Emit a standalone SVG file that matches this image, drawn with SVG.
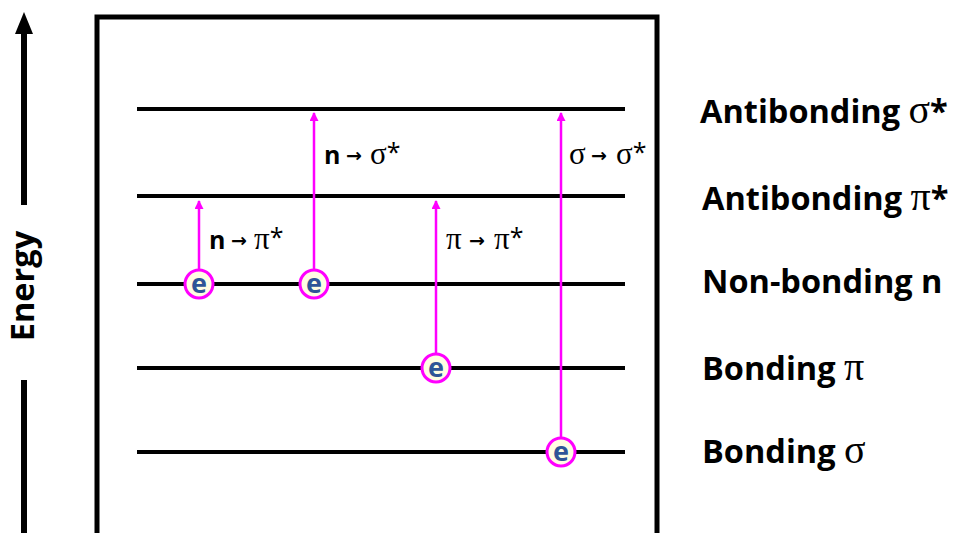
<svg xmlns="http://www.w3.org/2000/svg" width="954" height="533" viewBox="0 0 954 533">
<style>
.lvl{stroke:#000;stroke-width:4;fill:none}
.tr{stroke:#FF00FF;stroke-width:2.5;fill:none}
.el{fill:#FFFDE3;stroke:#FF00FF;stroke-width:3}
.et{font-family:"Open Sans","Liberation Sans",sans-serif;font-weight:bold;font-size:27px;fill:#2F5597;text-anchor:middle}
.lab{font-family:"Open Sans","Liberation Sans",sans-serif;font-size:25px;fill:#000}
.nb{font-weight:bold}
.ar{font-family:"DejaVu Sans",sans-serif;font-size:19px;font-weight:bold}
.gk{font-family:"Liberation Serif",serif;font-size:31px}
.big{font-family:"Open Sans","Liberation Sans",sans-serif;font-weight:bold;font-size:32.5px;fill:#000}
.bg{font-family:"Liberation Serif",serif;font-weight:normal;font-size:40px}
</style>
<defs>
<marker id="mh" viewBox="0 0 10 10" refX="9" refY="5" markerWidth="11" markerHeight="9" markerUnits="userSpaceOnUse" orient="auto">
<path d="M0,0 L10,5 L0,10 z" fill="#FF00FF"/>
</marker>
</defs>
<rect width="954" height="533" fill="#fff"/>
<g id="energy-axis">
<line x1="24" y1="30" x2="24" y2="205" stroke="#000" stroke-width="6"/>
<path d="M15,34 L24,12 L33,34 z" fill="#000"/>
<line x1="24" y1="380" x2="24" y2="533" stroke="#000" stroke-width="6"/>
<text class="big" font-size="30" transform="translate(34,286) rotate(-90)" text-anchor="middle">Energy</text>
</g>
<g id="frame">
<rect x="97" y="17" width="560" height="520" fill="none" stroke="#000" stroke-width="5"/>
</g>
<g id="levels">
<line class="lvl" x1="137" y1="109" x2="625" y2="109"/>
<line class="lvl" x1="137" y1="196" x2="625" y2="196"/>
<line class="lvl" x1="137" y1="284" x2="625" y2="284"/>
<line class="lvl" x1="137" y1="368" x2="625" y2="368"/>
<line class="lvl" x1="137" y1="452" x2="625" y2="452"/>
</g>
<g id="connectors">
<line class="tr" x1="199" y1="270" x2="199" y2="201" marker-end="url(#mh)"/>
<line class="tr" x1="314" y1="270" x2="314" y2="113" marker-end="url(#mh)"/>
<line class="tr" x1="436" y1="354" x2="436" y2="201" marker-end="url(#mh)"/>
<line class="tr" x1="561" y1="438" x2="561" y2="113" marker-end="url(#mh)"/>
</g>
<g id="e1"><circle class="el" cx="199" cy="284" r="14"/><text class="et" x="199" y="293">e</text></g>
<g id="e2"><circle class="el" cx="314" cy="284" r="14"/><text class="et" x="314" y="293">e</text></g>
<g id="e3"><circle class="el" cx="436" cy="368" r="14"/><text class="et" x="436" y="377">e</text></g>
<g id="e4"><circle class="el" cx="561" cy="452" r="14"/><text class="et" x="561" y="461">e</text></g>
<g id="t1"><text class="lab" x="209" y="249"><tspan class="nb">n</tspan><tspan class="ar" x="231" dy="-2">→</tspan><tspan class="gk" x="254" dy="2">π</tspan><tspan dy="-3">*</tspan></text></g>
<g id="t2"><text class="lab" x="324" y="164"><tspan class="nb">n</tspan><tspan class="ar" x="346" dy="-2">→</tspan><tspan class="gk" x="370" dy="2">σ</tspan><tspan dy="-3">*</tspan></text></g>
<g id="t3"><text class="lab" x="446" y="249"><tspan class="gk">π</tspan><tspan class="ar" x="469" dy="-2">→</tspan><tspan class="gk" x="494" dy="2">π</tspan><tspan dy="-3">*</tspan></text></g>
<g id="t4"><text class="lab" x="569" y="164"><tspan class="gk">σ</tspan><tspan class="ar" x="591" dy="-2">→</tspan><tspan class="gk" x="616" dy="2">σ</tspan><tspan dy="-3">*</tspan></text></g>
<g id="labels">
<text class="big" x="700" y="123">Antibonding <tspan class="bg">σ</tspan>*</text>
<text class="big" x="702" y="210">Antibonding <tspan class="bg">π</tspan>*</text>
<text class="big" x="702" y="293">Non-bonding n</text>
<text class="big" x="702" y="380">Bonding <tspan class="bg">π</tspan></text>
<text class="big" x="702" y="463">Bonding <tspan class="bg">σ</tspan></text>
</g>
</svg>
